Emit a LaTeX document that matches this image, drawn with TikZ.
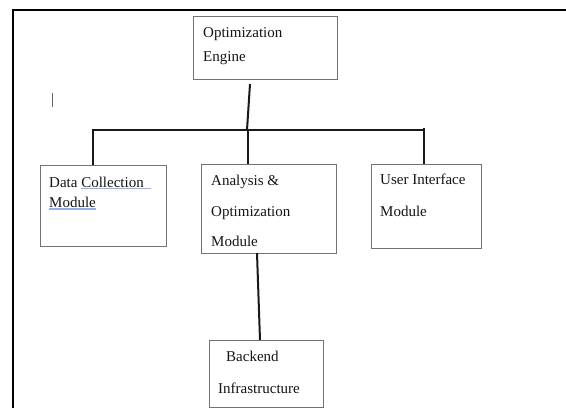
\documentclass[tikz,border=0pt]{standalone}
\usepackage{fontspec}
\setmainfont{Liberation Serif}
\definecolor{spellblue}{RGB}{150,175,232}
\begin{document}
\begin{tikzpicture}[x=1pt,y=-1pt,
  box/.style={draw=black!55, line width=0.9pt, fill=white, inner sep=0pt, anchor=north west},
  txt/.style={anchor=base west, inner sep=0pt, text=black!92, font=\fontsize{15}{18}\selectfont},
  conn/.style={draw=black!90, line width=2pt},
  frame/.style={draw=black, line width=2pt},
  squiggle/.style={draw=spellblue, line width=1.5pt}]
\useasboundingbox (0,0) rectangle (566,408);
% outer frame (partly visible)
\coordinate (fTL) at (12.5,10);
\coordinate (fTR) at (566,10);
\coordinate (fBL) at (12.5,408);
\draw[frame] (fBL) -- (fTL) -- (fTR);
% cursor mark
\coordinate (curA) at (52,93);
\coordinate (curB) at (52,107);
\draw[draw=black!60, line width=0.8pt] (curA) -- (curB);
% boxes
\node[box, minimum width=144pt, minimum height=63pt] (engine) at (193,16) {};
\node[box, minimum width=126pt, minimum height=81pt] (data) at (40,165) {};
\node[box, minimum width=135pt, minimum height=89pt] (analysis) at (201,164) {};
\node[box, minimum width=110pt, minimum height=84pt] (ui) at (371,164) {};
\node[box, minimum width=114pt, minimum height=67pt] (backend) at (209,340) {};
% texts
\node[txt] (engineT1) at (203,37) {Optimization};
\node[txt] (engineT2) at (203,61) {Engine};
\node[txt] (dataT1) at (49,187) {Data Collection};
\node[txt] (dataT2) at (49,207) {Module};
\node[txt] (anaT1) at (211,185) {Analysis \&};
\node[txt] (anaT2) at (211,216) {Optimization};
\node[txt] (anaT3) at (211,246) {Module};
\node[txt] (uiT1) at (380,184) {User Interface};
\node[txt] (uiT2) at (380,216) {Module};
\node[txt] (backT1) at (226,361) {Backend};
\node[txt] (backT2) at (218,393) {Infrastructure};
% spell-check underlines
\coordinate (sq1a) at (81,188.5);
\coordinate (sq1b) at (151,188.5);
\coordinate (sq2a) at (49,209);
\coordinate (sq2b) at (96,209);
\draw[squiggle] (sq1a) -- (sq1b);
\draw[squiggle] (sq2a) -- (sq2b);
% connectors
\coordinate (engOut) at (250,84);
\coordinate (busMid) at (247,130);
\coordinate (busL) at (93,130);
\coordinate (busR) at (424,130);
\coordinate (busRup) at (424,128);
\draw[conn] (engOut) -- (busMid);
\draw[conn] (busL |- data.north) -- (busL) -- (busRup |- busL) -- (busRup);
\draw[conn] (busR) -- (busR |- ui.north);
\coordinate (anaDropTop) at (248,130);
\draw[conn] (anaDropTop) -- (anaDropTop |- analysis.north);
\coordinate (anaOut) at (257,253);
\coordinate (backIn) at (260,340);
\draw[conn] (anaOut) -- (backIn);
\end{tikzpicture}
\end{document}
